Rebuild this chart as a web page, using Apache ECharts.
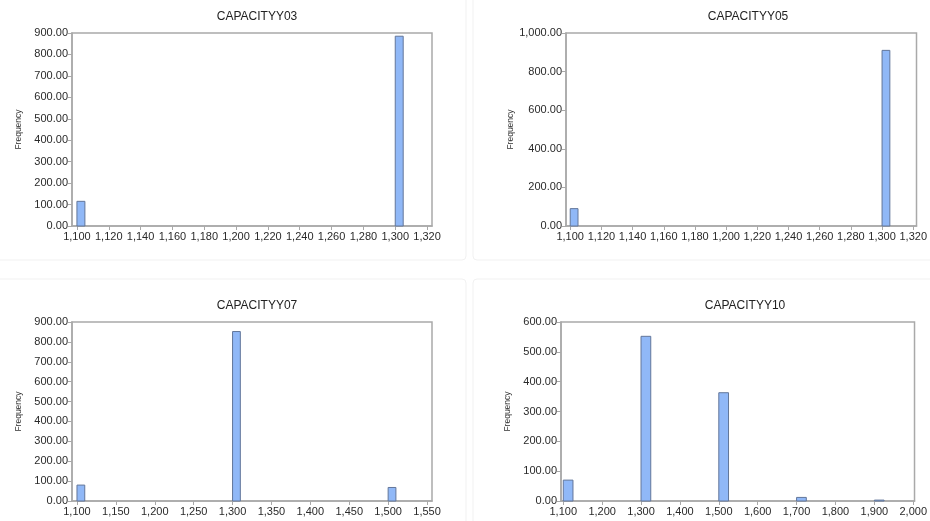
<!DOCTYPE html>
<html>
<head>
<meta charset="utf-8">
<title>Capacity histograms</title>
<script src="https://cdn.jsdelivr.net/npm/echarts@6/dist/echarts.min.js"></script>
<style>
  html, body { margin: 0; padding: 0; background: #ffffff; }
  #chart { width: 930px; height: 521px; }
</style>
</head>
<body>
<div id="chart"></div>
<script>
// Histogram bins: left edge of each bin, bin width and frequency
const cap03Bins = [1100, 1300];
const cap03Counts = [115, 885];
const cap03Width = 5;

const cap05Bins = [1100, 1300];
const cap05Counts = [90, 910];
const cap05Width = 5;

const cap07Bins = [1100, 1300, 1500];
const cap07Counts = [80, 852, 68];
const cap07Width = 10;

const cap10Bins = [1100, 1300, 1500, 1700, 1900];
const cap10Counts = [70, 552, 363, 12, 3];
const cap10Width = 25;

// Tick values
const ticksX03 = [1100, 1120, 1140, 1160, 1180, 1200, 1220, 1240, 1260, 1280, 1300, 1320];
const ticksX05 = [1100, 1120, 1140, 1160, 1180, 1200, 1220, 1240, 1260, 1280, 1300, 1320];
const ticksX07 = [1100, 1150, 1200, 1250, 1300, 1350, 1400, 1450, 1500, 1550];
const ticksX10 = [1100, 1200, 1300, 1400, 1500, 1600, 1700, 1800, 1900, 2000];
const ticksY03 = [0, 100, 200, 300, 400, 500, 600, 700, 800, 900];
const ticksY05 = [0, 200, 400, 600, 800, 1000];
const ticksY07 = [0, 100, 200, 300, 400, 500, 600, 700, 800, 900];
const ticksY10 = [0, 100, 200, 300, 400, 500, 600];

const titles = ['CAPACITYY03', 'CAPACITYY05', 'CAPACITYY07', 'CAPACITYY10'];

const FONT = '"Liberation Sans", Arial, sans-serif';
const FRAME = '#a9a9a9';

function withCommas(v, digits) {
  return v.toLocaleString('en-US', { minimumFractionDigits: digits, maximumFractionDigits: digits });
}

const panels = [
  { bins: cap03Bins, counts: cap03Counts, w: cap03Width, tx: ticksX03, ty: ticksY03,
    grid: { left: 72, top: 33, width: 360, height: 193 }, xMin: 1096.9, xMax: 1323.1, yMax: 900 },
  { bins: cap05Bins, counts: cap05Counts, w: cap05Width, tx: ticksX05, ty: ticksY05,
    grid: { left: 566, top: 33, width: 354, height: 193 }, xMin: 1097.3, xMax: 1322.1, yMax: 1000 },
  { bins: cap07Bins, counts: cap07Counts, w: cap07Width, tx: ticksX07, ty: ticksY07,
    grid: { left: 72, top: 322, width: 360, height: 179 }, xMin: 1093.6, xMax: 1556.4, yMax: 900 },
  { bins: cap10Bins, counts: cap10Counts, w: cap10Width, tx: ticksX10, ty: ticksY10,
    grid: { left: 561, top: 322, width: 358, height: 179 }, xMin: 1094.2, xMax: 2003.3, yMax: 600 }
];

const grids = [], xAxes = [], yAxes = [], series = [], titleList = [];

panels.forEach(function (p, i) {
  grids.push(Object.assign({
    show: true, borderColor: FRAME, borderWidth: 1.5, backgroundColor: '#ffffff'
  }, p.grid));

  xAxes.push({
    type: 'value', gridIndex: i, min: p.xMin, max: p.xMax,
    splitLine: { show: false },
    axisLine: { show: true, lineStyle: { color: FRAME, width: 1.5 } },
    axisTick: { show: true, length: 4, customValues: p.tx, lineStyle: { color: FRAME } },
    axisLabel: {
      customValues: p.tx, margin: 5, color: '#2a2a2a', fontFamily: FONT, fontSize: 11,
      formatter: function (v) { return withCommas(v, 0); }
    }
  });

  yAxes.push({
    type: 'value', gridIndex: i, min: 0, max: p.yMax,
    interval: p.ty[1] - p.ty[0],
    name: 'Frequency', nameLocation: 'middle', nameGap: 49,
    nameTextStyle: { color: '#333', fontFamily: FONT, fontSize: 8.5 },
    splitLine: { show: false },
    axisLine: { show: true, lineStyle: { color: FRAME, width: 1.5 } },
    axisTick: { show: true, length: 4, lineStyle: { color: FRAME } },
    axisLabel: {
      margin: 4, color: '#2a2a2a', fontFamily: FONT, fontSize: 11,
      formatter: function (v) { return withCommas(v, 2); }
    }
  });

  const data = p.bins.map(function (b, k) { return [b, b + p.w, p.counts[k]]; });

  series.push({
    type: 'custom', xAxisIndex: i, yAxisIndex: i,
    encode: { x: [0, 1], y: 2 },
    data: data,
    renderItem: function (params, api) {
      const lo = api.coord([api.value(0), 0]);
      const hi = api.coord([api.value(1), api.value(2)]);
      return {
        type: 'rect',
        shape: { x: lo[0], y: hi[1], width: hi[0] - lo[0], height: lo[1] - hi[1] },
        style: { fill: '#90b8f7', stroke: '#62769a', lineWidth: 1 }
      };
    }
  });

  titleList.push({
    text: titles[i],
    left: p.grid.left + p.grid.width / 2,
    top: p.grid.top - 27,
    textAlign: 'center',
    textStyle: { fontFamily: FONT, fontSize: 12, fontWeight: 'normal', color: '#222' }
  });
});

// Faint panel outlines separating the four histograms
const panelFrames = [
  [-6, -6, 472, 266], [473, -6, 463, 266], [-6, 279, 472, 248], [473, 279, 463, 248]
].map(function (r) {
  return {
    type: 'rect', z: -10, silent: true,
    shape: { x: r[0], y: r[1], width: r[2], height: r[3], r: 4 },
    style: { fill: '#ffffff', stroke: '#f1f1f1', lineWidth: 1 }
  };
});

const chart = echarts.init(document.getElementById('chart'), null, { renderer: 'canvas' });
chart.setOption({
  animation: false,
  backgroundColor: '#ffffff',
  title: titleList,
  grid: grids,
  xAxis: xAxes,
  yAxis: yAxes,
  series: series,
  graphic: panelFrames
});
</script>
</body>
</html>
